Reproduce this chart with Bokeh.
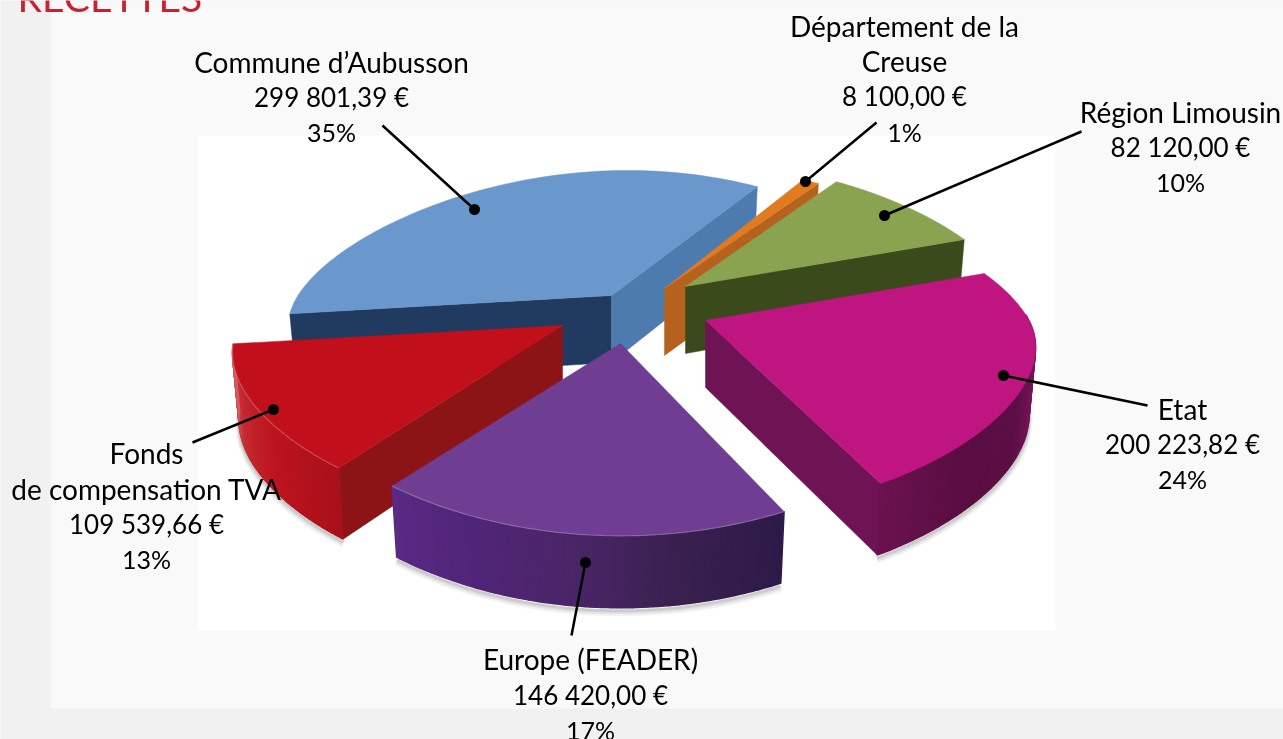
import numpy as np
from bokeh.plotting import figure
from bokeh.models import Range1d, ColumnDataSource
from bokeh.core.properties import value
from bokeh.embed import file_html
from bokeh.resources import INLINE

# ---- data ----
title = "RECETTES"
categories = ["Commune d’Aubusson", "Département de la Creuse", "Région Limousin", "Etat", "Europe (FEADER)", "Fonds de compensation TVA"]
amounts = [299801.39, 8100.00, 82120.00, 200223.82, 146420.00, 109539.66]
percents = [35, 1, 10, 24, 17, 13]
label_lines = [
    ["Commune d’Aubusson"],
    ["Département de la", "Creuse"],
    ["Région Limousin"],
    ["Etat"],
    ["Europe (FEADER)"],
    ["Fonds", "de compensation TVA"],
]

# ---- layout and style ----
W, H = 1283, 739
FONT = "Lato"
FS_NAME, FS_AMOUNT, FS_PCT = "28px", "26px", "25px"
START = 188.0
A, B = 330.0, 125.0
style = [
    dict(apex=(611, 295), am=.95, shear=.13, t0=0, t1=0, top="#6a98cc", w0="#213a5f", w1="#4e7bae", arc=None),
    dict(apex=(664, 288), am=1, shear=0, t0=0, t1=0, top="#e27a20", w0=None, w1="#b5621e", arc=None),
    dict(apex=(685, 286), am=.98, shear=0, t0=0, t1=0, top="#8aa350", w0=None, w1="#3a4a1b", arc=None),
    dict(apex=(705, 320), am=.98, shear=0, t0=0, t1=-.5, top="#bf1580", w0=None, w1="#6e1353",
         arc=["#6b1250", "#5a0e41", "#5c0f44", "#7c1660", "#8f1a70"]),
    dict(apex=(620, 343), am=1, shear=0, t0=-3, t1=0, top="#6f3d92", w0=None, w1=None,
         arc=["#2e1a48", "#38204f", "#4a2566", "#502578", "#5a2a85"]),
    dict(apex=(562, 325), am=.98, shear=0, t0=0, t1=0, top="#c1101c", w0="#8c1416", w1=None,
         arc=["#a8111a", "#bd1420", "#c42a30", "#cf6064"]),
]
order = [0, 1, 2, 3, 5, 4]
label_pos = [
    (331, [61, 96, 131]),
    (904, [25, 60, 95, 131]),
    (1180, [111, 146, 181]),
    (1182, [408, 443, 478]),
    (590, [658, 694, 729]),
    (146, [452, 488, 523, 558]),
]
leaders = [
    (382, 125, 474, 209),
    (876, 122, 805, 181),
    (1081, 131, 884, 215),
    (1147, 405, 1003, 375),
    (571, 635, 585, 562),
    (192, 442, 273, 409),
]


def proj(t, apex, am, shear):
    t = np.radians(t)
    u, v = np.cos(t), np.sin(t)
    yy = B * v * np.where(v >= 0, 1.0, 1.0 / (1 + .35 * v))
    xx = A * am * u / (1 + .2 * v) + shear * yy
    return apex[0] + xx, apex[1] - yy


def depth(t):
    return 67 - 5 * np.sin(np.radians(t))


def mix(stops, f):
    c = np.array([[int(s[i:i + 2], 16) for i in (1, 3, 5)] for s in stops], float)
    pos = f * (len(stops) - 1)
    i = min(int(pos), len(stops) - 2)
    rgb = c[i] + (c[i + 1] - c[i]) * (pos - i)
    return "#%02x%02x%02x" % tuple(int(round(x)) for x in rgb)


p = figure(width=W, height=H, x_range=Range1d(0, W), y_range=Range1d(H, 0),
           output_backend="svg", toolbar_location=None, min_border=0,
           outline_line_color=None, background_fill_color="#f1f1f1",
           border_fill_color="#f1f1f1",
           styles={"position": "fixed", "left": "0px", "top": "0px"})
p.axis.visible = False
p.grid.visible = False

# backdrop panels
p.quad(left=[50], right=[W], top=[0], bottom=[708], fill_color="#f9f9f9", line_color=None)
p.quad(left=[197], right=[1055], top=[135], bottom=[630], fill_color="#ffffff", line_color=None)

# title (runs off the top edge, as in the reference)
p.text(x=[17], y=[-4], text=[title], text_font=value(FONT), text_font_size="39px",
       text_color="#c8202f", text_baseline="alphabetic", text_align="left")

# slices, angles from the values
total = sum(amounts)
spans = [a / total * 360 for a in amounts]
edges = START - np.concatenate([[0], np.cumsum(spans)])
LEAN = .98

for i in order:
    s = style[i]
    t_a = edges[i] + s["t0"]
    t_b = edges[i + 1] + s["t1"]
    ax, ay = s["apex"]
    ts = np.linspace(t_a, t_b, 81)
    x, y = proj(ts, s["apex"], s["am"], s["shear"])
    d = depth(ts)
    xb = ax + (x - ax) * LEAN
    yb = y + d
    if s["arc"]:
        m = np.sin(np.radians(ts)) < .05
        for off, w, al in ((5, 7, .07), (4, 5, .1), (3, 3, .16)):
            p.line(xb[m], yb[m] + off, line_color="#555555", line_width=w, line_alpha=al)
    if s["w0"]:
        p.patch([ax, x[0], xb[0], ax], [ay, y[0], yb[0], ay + 67], fill_color=s["w0"], line_color=s["w0"], line_width=.5)
    if s["w1"]:
        p.patch([ax, x[-1], xb[-1], ax], [ay, y[-1], yb[-1], ay + 67], fill_color=s["w1"], line_color=s["w1"], line_width=.5)
    if s["arc"]:
        idx = np.where(np.sin(np.radians(ts)) < .05)[0]
        xs, ys, cols = [], [], []
        for k in idx[:-1]:
            f = (ts[k] - ts[idx[0]]) / (ts[idx[-1]] - ts[idx[0]])
            c = mix(s["arc"], 1 - f if i == 3 else f)
            xs.append([x[k], x[k + 1], xb[k + 1], xb[k]])
            ys.append([y[k], y[k + 1], yb[k + 1], yb[k]])
            cols.append(c)
        p.patches(xs, ys, fill_color=cols, line_color=cols, line_width=1.5)
    p.patch(np.r_[ax, x], np.r_[ay, y], fill_color=s["top"], line_color=s["top"], line_width=.5)
    if s["arc"] and i != 3:
        m = np.sin(np.radians(ts)) < 0
        p.line(x[m], y[m], line_color="#ffffff", line_width=1.2, line_alpha=.25)

for (x0, y0, x1, y1) in leaders:
    p.line([x0, x1], [y0, y1], line_color="#000000", line_width=2.5)
p.scatter([l[2] for l in leaders], [l[3] for l in leaders], size=11, marker="circle",
          fill_color="#000000", line_color=None)


def euro(a):
    return f"{a:,.2f}".replace(",", " ").replace(".", ",") + " €"


tx, ty, tt, fs = [], [], [], []
for i, (cx, ys) in enumerate(label_pos):
    names = label_lines[i]
    lines = names + [euro(amounts[i]), f"{percents[i]}%"]
    sizes = [FS_NAME] * len(names) + [FS_AMOUNT, FS_PCT]
    for line, yy, sz in zip(lines, ys, sizes):
        tx.append(cx)
        ty.append(yy)
        tt.append(line)
        fs.append(sz)
src = ColumnDataSource(dict(x=tx, y=ty, text=tt, fs=fs))
p.text(x="x", y="y", text="text", source=src, text_font=value(FONT), text_font_size="fs",
       text_color="#000000", text_align="center", text_baseline="middle")

open("out.html", "w").write(file_html(p, INLINE))
